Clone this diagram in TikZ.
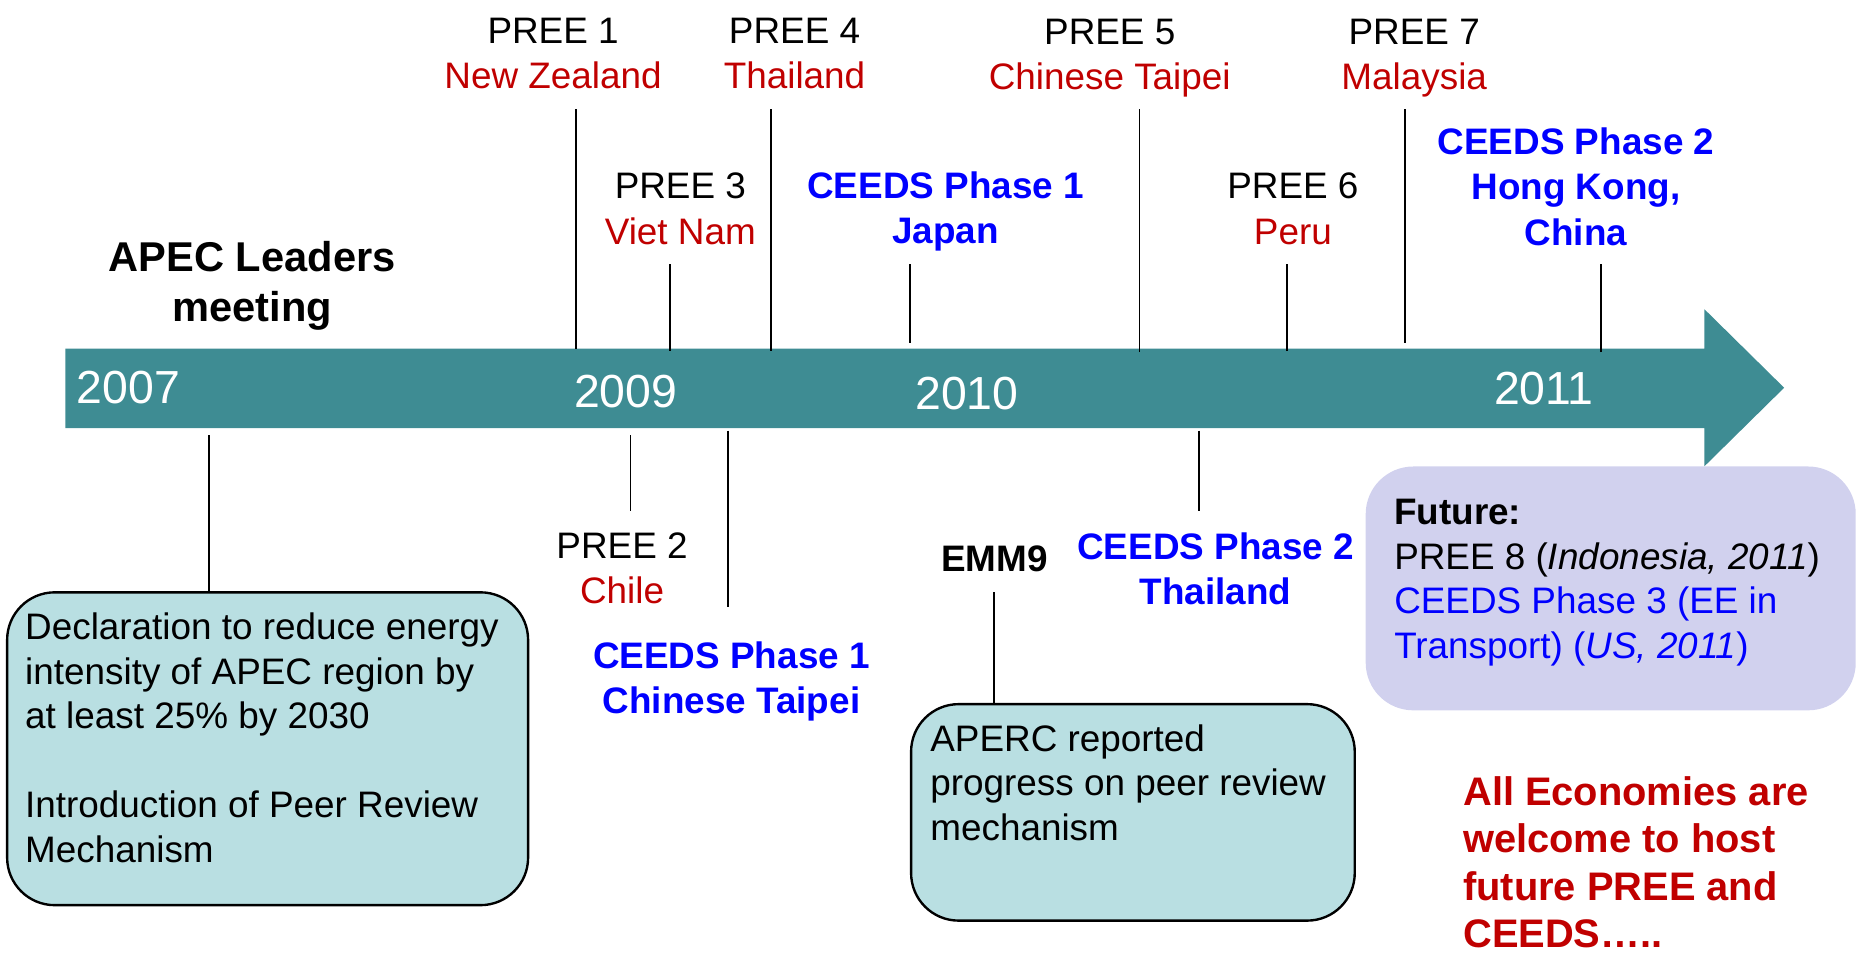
\documentclass[tikz,border=0pt]{standalone}
\usepackage{fontspec}
\setmainfont{Liberation Sans}
\definecolor{arrowteal}{HTML}{3E8C93}
\definecolor{boxteal}{HTML}{B9DFE2}
\definecolor{boxlilac}{HTML}{D1D1EE}
\definecolor{apecred}{HTML}{C00000}
\definecolor{apecblue}{HTML}{0000FF}
\begin{document}
\begin{tikzpicture}[x=1pt,y=-1pt,
  lbl/.style={font=\fontsize{31}{38}\selectfont, align=center, inner sep=0pt},
  ceeds/.style={lbl, font=\fontsize{31}{38}\selectfont\bfseries, text=apecblue},
  year/.style={font=\fontsize{39}{44}\selectfont, text=white, inner sep=0pt},
  tick/.style={draw=black, line width=1.5pt},
  infobox/.style={draw=black, line width=2pt, fill=boxteal, rounded corners=40pt, inner sep=0pt},
  boxtext/.style={font=\fontsize{31}{37.5}\selectfont, align=left, inner sep=0pt, anchor=north west}]
\useasboundingbox (0,0) rectangle (1568,806);

% timeline arrow
\fill[arrowteal] (55,293) -- (1433,293) -- (1433,260) -- (1500,326) -- (1433,392)
  -- (1433,360) -- (55,360) -- cycle;
\node[year] (y2007) at (108,326) {2007};
\node[year] (y2009) at (526,329) {2009};
\node[year] (y2010) at (813,331) {2010};
\node[year] (y2011) at (1298,327) {2011};

% events above the line
\node[font=\fontsize{35}{42}\selectfont\bfseries, align=center, inner sep=0pt] (apec) at (212,240) {APEC Leaders\\meeting};
\node[lbl] (pree1) at (465,45) {PREE 1\\\textcolor{apecred}{New Zealand}};
\node[lbl] (pree3) at (572,175.5) {PREE 3\\\textcolor{apecred}{Viet Nam}};
\node[lbl] (pree4) at (668,45) {PREE 4\\\textcolor{apecred}{Thailand}};
\node[ceeds] (ceedsjp) at (795,178) {CEEDS Phase 1\\Japan};
\node[lbl] (pree5) at (933,49) {PREE 5\\\textcolor{apecred}{Chinese Taipei}};
\node[lbl] (pree6) at (1087,175.5) {PREE 6\\\textcolor{apecred}{Peru}};
\node[lbl] (pree7) at (1189,49) {PREE 7\\\textcolor{apecred}{Malaysia}};
\node[ceeds] (ceedshk) at (1325,157) {CEEDS Phase 2\\Hong Kong,\\China};

% events below the line
\node[lbl] (pree2) at (523,477.5) {PREE 2\\\textcolor{apecred}{Chile}};
\node[ceeds] (ceedsct) at (615,573) {CEEDS Phase 1\\Chinese Taipei};
\node[lbl, font=\fontsize{31}{38}\selectfont\bfseries] (emm9) at (836,470) {EMM9};
\node[ceeds] (ceedsth) at (1022,478) {CEEDS Phase 2\\Thailand};

% boxes
\node[infobox, minimum width=438pt, minimum height=263pt, anchor=north west] (decl) at (5,497) {};
\node[boxtext] (decltext) at ([shift={(16,18)}]decl.north west)
  {Declaration to reduce energy\\intensity of APEC region by\\at least 25\% by 2030\\[37.5pt]Introduction of Peer Review\\Mechanism};
\node[infobox, minimum width=373pt, minimum height=182pt, anchor=north west] (aperc) at (765,591) {};
\node[boxtext] (apercText) at ([shift={(17,18)}]aperc.north west)
  {APERC reported\\progress on peer review\\mechanism};
\node[fill=boxlilac, rounded corners=40pt, minimum width=412pt, minimum height=205pt,
  inner sep=0pt, anchor=north west] (future) at (1148,392) {};
\node[boxtext] (futuretext) at ([shift={(24,27.5)}]future.north west)
  {\textbf{Future:}\\PREE 8 (\textit{Indonesia, 2011})\\
   \textcolor{apecblue}{CEEDS Phase 3 (EE in}\\\textcolor{apecblue}{Transport) (\textit{US, 2011})}};
\node[font=\fontsize{33.5}{40}\selectfont\bfseries, text=apecred, align=left, inner sep=0pt,
  anchor=north west] (welcome) at (1230,652.5)
  {All Economies are\\welcome to host\\future PREE and\\CEEDS…..};

% tick end points
\coordinate (c1a) at (484,293);  \coordinate (c1b) at (484,92);
\coordinate (c3a) at (563,295);  \coordinate (c3b) at (563,222);
\coordinate (c4a) at (648,295);  \coordinate (c4b) at (648,92);
\coordinate (cja) at (765,288);  \coordinate (cjb) at (765,222);
\coordinate (c5a) at (958,296);  \coordinate (c5b) at (958,92);
\coordinate (c6a) at (1082,295); \coordinate (c6b) at (1082,222);
\coordinate (c7a) at (1181,288); \coordinate (c7b) at (1181,92);
\coordinate (cha) at (1346,296); \coordinate (chb) at (1346,222);
\coordinate (d7a) at (176,366);
\coordinate (d2a) at (530,366);  \coordinate (d2b) at (530,430);
\coordinate (dca) at (612,362);  \coordinate (dcb) at (612,510);
\coordinate (dea) at (836,498);
\coordinate (dta) at (1008,362); \coordinate (dtb) at (1008,430);

\draw[tick] (c1a) -- (c1b);
\draw[tick] (c3a) -- (c3b);
\draw[tick] (c4a) -- (c4b);
\draw[tick] (cja) -- (cjb);
\draw[tick] (c5a) -- (c5b);
\draw[tick] (c6a) -- (c6b);
\draw[tick] (c7a) -- (c7b);
\draw[tick] (cha) -- (chb);
\draw[tick] (d7a) -- (d7a |- decl.north);
\draw[tick] (d2a) -- (d2b);
\draw[tick] (dca) -- (dcb);
\draw[tick] (dea) -- (dea |- aperc.north);
\draw[tick] (dta) -- (dtb);
\end{tikzpicture}
\end{document}
